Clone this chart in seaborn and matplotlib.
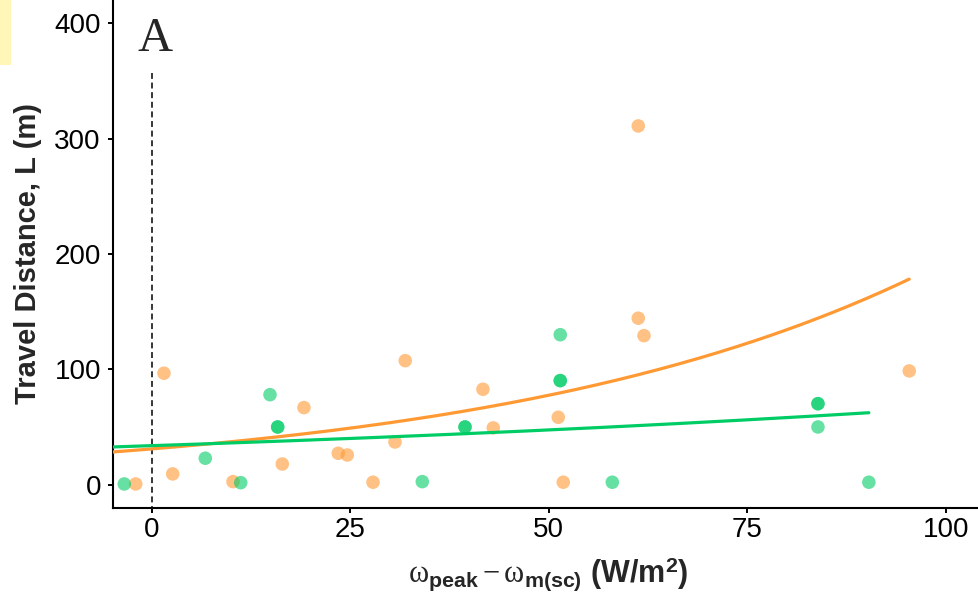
import numpy as np
import pandas as pd
import matplotlib
matplotlib.use("Agg")
import matplotlib.pyplot as plt
from matplotlib.patches import Rectangle
import seaborn as sns

# Observations: solar excess (W/m^2) vs travel distance (m)
orange_x = [-2.05, 1.51, 2.61, 10.21, 16.42, 19.15, 23.47, 24.61, 27.85, 30.62,
            31.91, 41.70, 43.00, 51.19, 51.82, 61.27, 61.27, 61.99, 95.41]
orange_y = [0.6, 96.6, 9.3, 2.6, 17.9, 66.8, 27.2, 25.7, 2.1, 37.0,
            107.5, 82.7, 49.2, 58.4, 2.1, 311.0, 144.3, 129.2, 98.6]

green_x = [-3.49, 6.72, 11.18, 14.87, 15.84, 15.84, 34.06, 39.44, 39.44, 51.44,
           51.44, 51.44, 58.00, 83.91, 83.91, 83.91, 90.32]
green_y = [0.6, 22.9, 1.7, 78.0, 50.0, 50.0, 2.6, 50.0, 50.0, 130.0,
           90.2, 90.2, 2.1, 70.2, 70.2, 50.0, 2.1]

# Exponential fits  L = a * exp(b * x)
fit_orange = (31.0, 0.01833)
fit_green = (33.8, 0.00678)

x_ticks = [0, 25, 50, 75, 100]
y_ticks = [0, 100, 200, 300, 400]
x_limits = (-4.95, 104.2)
y_limits = (-20, 420.2)

palette = {"Group A": "#FF9933", "Group B": "#00CC66"}

points = pd.concat([
    pd.DataFrame({"x": orange_x, "y": orange_y, "group": "Group A"}),
    pd.DataFrame({"x": green_x, "y": green_y, "group": "Group B"}),
], ignore_index=True)

curves = []
for name, xs, (a, b) in [("Group A", orange_x, fit_orange),
                         ("Group B", green_x, fit_green)]:
    grid = np.linspace(x_limits[0], max(xs), 200)
    curves.append(pd.DataFrame({"x": grid, "y": a * np.exp(b * grid), "group": name}))
curves = pd.concat(curves, ignore_index=True)

sns.set_style("ticks")
plt.rcParams["font.family"] = ["Liberation Sans", "DejaVu Sans"]
plt.rcParams["mathtext.fontset"] = "custom"
plt.rcParams["mathtext.rm"] = "Liberation Serif"
plt.rcParams["mathtext.it"] = "Liberation Serif:italic"
plt.rcParams["mathtext.bf"] = "Liberation Sans:bold"

fig = plt.figure(figsize=(9.79, 5.95), dpi=100)
ax = fig.add_axes([0.1151, 0.1467, 0.8849, 0.8533])

sns.scatterplot(data=points, x="x", y="y", hue="group", palette=palette,
                s=95, alpha=0.6, linewidth=0, legend=False, ax=ax, zorder=3)
sns.lineplot(data=curves, x="x", y="y", hue="group", palette=palette,
             linewidth=2.3, legend=False, ax=ax, zorder=4)

ax.vlines(0, -24, 357, colors="black", linewidth=1.1,
          linestyles=(0, (3.9, 2.4)), clip_on=False, zorder=2)

ax.text(0.38, 376, "A", fontsize=35, family="Liberation Serif",
        ha="center", va="baseline")

ax.set_xlim(*x_limits)
ax.set_ylim(*y_limits)
ax.set_xticks(x_ticks)
ax.set_yticks(y_ticks)
ax.tick_params(axis="both", labelsize=20, length=3.5, width=1.4, color="black",
               labelcolor="black")
ax.tick_params(axis="y", pad=5)
ax.tick_params(axis="x", pad=3)
for side in ["left", "bottom"]:
    ax.spines[side].set_linewidth(1.5)
    ax.spines[side].set_color("black")
sns.despine(ax=ax)

ax.set_ylabel("Travel Distance, L (m)", fontsize=21, fontweight="bold")
ax.yaxis.set_label_coords(-0.082, 0.5)
ax.set_xlabel(r"$\mathrm{ω}_{\mathbf{peak}} - \mathrm{ω}_{\mathbf{m(sc)}}$ (W/m$^{\mathbf{2}}$)",
              fontsize=22, fontweight="bold")
ax.xaxis.set_label_coords(0.5025, -0.094)

fig.patches.append(Rectangle((0, (595 - 65) / 595), 10.5 / 979, 65 / 595,
                             transform=fig.transFigure, facecolor="#FFF6B8",
                             edgecolor="none", zorder=0))

fig.savefig("out.png", dpi=100)
